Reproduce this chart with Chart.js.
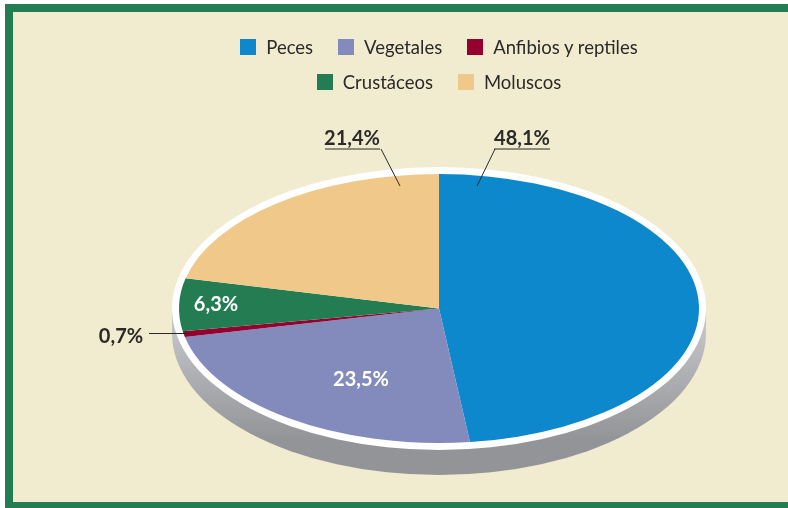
<!DOCTYPE html>
<html>
<head>
<meta charset="utf-8">
<script src="https://cdn.jsdelivr.net/npm/chart.js@4"></script>
<style>
  html, body { margin: 0; padding: 0; background: #fff; }
  #page { position: relative; width: 788px; height: 508px; overflow: hidden; }
  #frame { position: absolute; left: 5px; top: 4px; width: 800px; height: 490px; background: #f1ebcf; border: 8px solid #247d52; }
  #cuotas { position: absolute; left: 0; top: 0; }
  #legend { position: absolute; left: 219px; top: 29px; width: 440px; display: flex; flex-wrap: wrap; justify-content: center;
    font: 18.5px Lato, sans-serif; color: #2b2a29; }
  #legend div { display: flex; align-items: center; height: 35px; margin: 0 12.5px; }
  #legend span { display: inline-block; width: 16px; height: 16px; margin-right: 10px; }
</style>
</head>
<body>
<div id="page">
  <div id="frame"></div>
  <canvas id="cuotas" width="788" height="508"></canvas>
  <div id="legend"></div>
</div>
<script>
var categories = ["Peces", "Vegetales", "Anfibios y reptiles", "Crustáceos", "Moluscos"];
var shares = [48.1, 23.5, 0.7, 6.3, 21.4];
var shareLabels = ["48,1%", "23,5%", "0,7%", "6,3%", "21,4%"];
var colors = ["#0e88cc", "#838bbd", "#96002f", "#247d52", "#f0c98a"];

var flatten = 134.5 / 260;
var rimX = 267, rimY = 141.5, depth = 25;

// where each value label sits, relative to the pie centre
var labelSpots = [
  { x: 83, y: -170, color: "#2b2a29", under: [55, 111], leader: [[56, -159.5], [38, -122.5]] },
  { x: -78, y: 71, color: "#fff" },
  { x: -318, y: 28, color: "#2b2a29", leader: [[-290, 25], [-249, 25]] },
  { x: -223, y: -4, color: "#fff" },
  { x: -87, y: -170, color: "#2b2a29", under: [-114, -59], leader: [[-58, -159.5], [-39, -122.5]] },
];

categories.forEach(function (name, i) {
  var item = document.createElement("div");
  var box = document.createElement("span");
  box.style.background = colors[i];
  item.appendChild(box);
  item.appendChild(document.createTextNode(name));
  document.getElementById("legend").appendChild(item);
});

var flatPie = {
  id: "flatPie",
  beforeDatasetsDraw: function (chart) {
    var ctx = chart.ctx;
    var arc = chart.getDatasetMeta(0).data[0];
    var grad = ctx.createLinearGradient(0, arc.y + 12, 0, arc.y + 132);
    grad.addColorStop(0, "#c6c7ca");
    grad.addColorStop(1, "#939497");
    ctx.save();
    ctx.fillStyle = grad;
    ctx.beginPath();
    ctx.ellipse(arc.x, arc.y + depth, rimX, rimY, 0, 0, Math.PI);
    ctx.lineTo(arc.x - rimX, arc.y);
    ctx.lineTo(arc.x + rimX, arc.y);
    ctx.closePath();
    ctx.fill();
    ctx.fillStyle = "#fff";
    ctx.beginPath();
    ctx.ellipse(arc.x, arc.y, rimX, rimY, 0, 0, Math.PI * 2);
    ctx.fill();
    ctx.restore();
    ctx.save();
    ctx.translate(arc.x, arc.y);
    ctx.scale(1, flatten);
    ctx.translate(-arc.x, -arc.y);
  },
  afterDatasetsDraw: function (chart) {
    var ctx = chart.ctx;
    ctx.restore();
    var arc = chart.getDatasetMeta(0).data[0];
    ctx.save();
    ctx.font = "bold 20px Lato, sans-serif";
    ctx.textAlign = "center";
    ctx.textBaseline = "middle";
    ctx.strokeStyle = "#2b2a29";
    ctx.lineWidth = 1;
    shareLabels.forEach(function (text, i) {
      var spot = labelSpots[i];
      if (spot.leader) {
        ctx.beginPath();
        if (spot.under) {
          ctx.moveTo(arc.x + spot.under[0], arc.y + spot.leader[0][1]);
          ctx.lineTo(arc.x + spot.under[1], arc.y + spot.leader[0][1]);
        }
        ctx.moveTo(arc.x + spot.leader[0][0], arc.y + spot.leader[0][1]);
        ctx.lineTo(arc.x + spot.leader[1][0], arc.y + spot.leader[1][1]);
        ctx.stroke();
      }
      ctx.fillStyle = spot.color;
      ctx.fillText(text, arc.x + spot.x, arc.y + spot.y);
    });
    ctx.restore();
  },
};

new Chart(document.getElementById("cuotas"), {
  type: "pie",
  plugins: [flatPie],
  data: {
    labels: categories,
    datasets: [{ data: shares, backgroundColor: colors, borderWidth: 0, clip: false }],
  },
  options: {
    responsive: false,
    animation: false,
    radius: 260,
    layout: { padding: { left: 90, top: 109 } },
    plugins: {
      legend: { display: false },
      tooltip: { enabled: false },
    },
  },
});
</script>
</body>
</html>
